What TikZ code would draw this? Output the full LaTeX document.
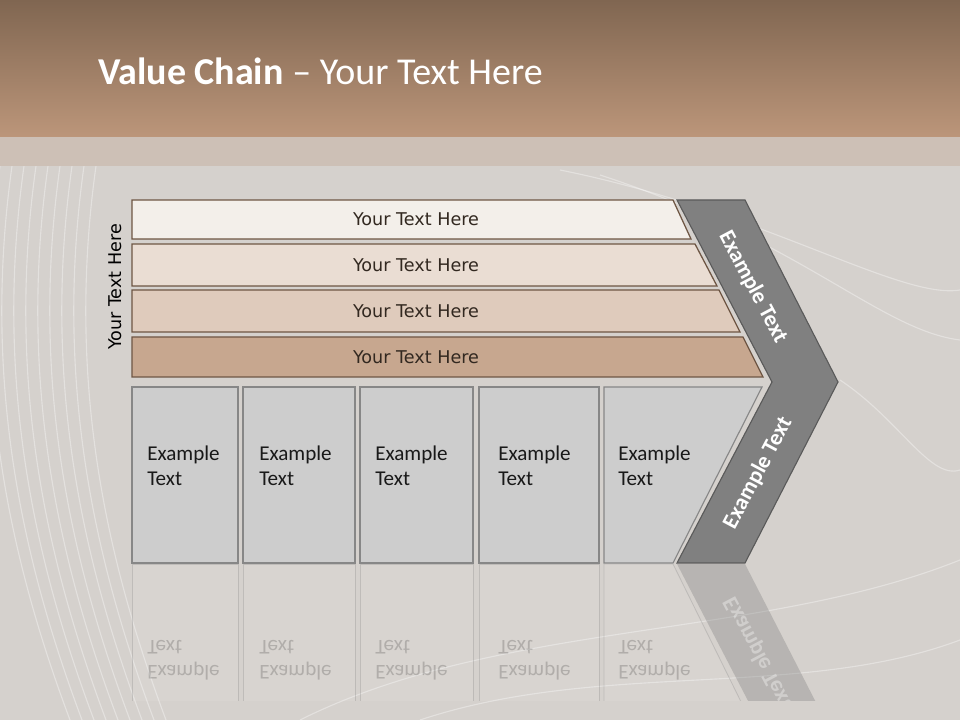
\documentclass[tikz,border=0pt]{standalone}
\usepackage{fontspec}
\setmainfont{Carlito}
\newfontfamily\barfont{DejaVu Sans}
\usepackage{tikz}
\usetikzlibrary{positioning}
\usepackage{xcolor}
\definecolor{HeadTop}{RGB}{128,102,81}
\definecolor{HeadBot}{RGB}{188,150,122}
\definecolor{BandTan}{RGB}{204,190,178}
\definecolor{BackGray}{RGB}{213,209,205}
\definecolor{BarEdge}{RGB}{110,86,68}
\definecolor{BarA}{RGB}{243,239,234}
\definecolor{BarB}{RGB}{234,221,211}
\definecolor{BarC}{RGB}{223,203,188}
\definecolor{BarD}{RGB}{199,167,143}
\definecolor{BoxFill}{RGB}{205,205,205}
\definecolor{BoxEdge}{RGB}{135,135,135}
\definecolor{ChevFill}{RGB}{128,128,128}
\definecolor{ChevEdge}{RGB}{90,90,90}
\definecolor{BarInk}{RGB}{50,40,32}

\tikzset{
  barshape/.style={draw=BarEdge, line width=0.9pt},
  boxshape/.style={draw=BoxEdge, fill=BoxFill, line width=0.8pt},
  bartext/.style={font=\barfont\fontsize{12.5}{14}\selectfont, text=BarInk, inner sep=0pt},
  boxtext/.style={font=\fontsize{15}{18}\selectfont, text=black!90, align=left, anchor=west, inner sep=0pt},
  chevtext/.style={font=\bfseries\fontsize{16}{19}\selectfont, text=white, inner sep=0pt},
  swirl/.style={white, opacity=0.35, line width=0.8pt},
  ghostbox/.style={draw=BoxEdge, draw opacity=0.3, fill=white, fill opacity=0.08, line width=0.6pt},
  ghosttext/.style={boxtext, text=black, opacity=0.18, yscale=-1}
}

\begin{document}
\begin{tikzpicture}[x=0.025cm, y=-0.025cm]
\useasboundingbox (0,0) rectangle (960,720);

% background
\fill[BackGray] (0,0) rectangle (960,720);
\foreach \s in {0,12,24,36,48,60,72,84,96} {
  \draw[swirl] (\s,166) .. controls ({\s-30},380) and ({\s+10},560) .. ({\s+70},720);
}
\draw[swirl] (560,170) .. controls (760,210) and (900,300) .. (960,290);
\draw[swirl] (600,175) .. controls (800,240) and (880,330) .. (960,340);
\draw[swirl] (840,380) .. controls (900,420) and (930,480) .. (960,470);
\draw[swirl] (300,720) .. controls (500,620) and (760,640) .. (960,560);
\draw[swirl] (420,720) .. controls (600,660) and (800,700) .. (960,640);

% header
\shade[top color=HeadTop, bottom color=HeadBot] (0,0) rectangle (960,137);
\fill[BandTan, opacity=0.85] (0,137) rectangle (960,166);
\node[anchor=base west, inner sep=0pt, text=white, font=\fontsize{27}{32}\selectfont]
  (title) at (98,85) {\textbf{Value Chain} -- Your Text Here};

% support bars
\draw[barshape, fill=BarA] (132,200) -- (673,200) -- (691,239) -- (132,239) -- cycle;
\draw[barshape, fill=BarB] (132,244) -- (695,244) -- (717,286) -- (132,286) -- cycle;
\draw[barshape, fill=BarC] (132,290) -- (719,290) -- (740,332) -- (132,332) -- cycle;
\draw[barshape, fill=BarD] (132,337) -- (743,337) -- (763,377) -- (132,377) -- cycle;
\node[bartext] (barA) at (416,219) {Your Text Here};
\node[bartext] (barB) at (416,265) {Your Text Here};
\node[bartext] (barC) at (416,311) {Your Text Here};
\node[bartext] (barD) at (416,357) {Your Text Here};
\node[bartext, text=black, rotate=90] (side) at (115,287) {Your Text Here};

% chevron
\draw[draw=ChevEdge, fill=ChevFill, line width=0.8pt]
  (677,200) -- (745,200) -- (838,382) -- (745,563) -- (677,563) -- (772,382) -- cycle;
\node[chevtext, rotate=-62] (chevup) at (753,287) {Example Text};
\node[chevtext, rotate=62] (chevdown) at (758,473) {Example Text};

% primary boxes
\draw[boxshape] (132,387) rectangle (238,563);
\draw[boxshape] (243,387) rectangle (355,563);
\draw[boxshape] (360,387) rectangle (473,563);
\draw[boxshape] (479,387) rectangle (599,563);
\draw[boxshape] (604,387) -- (762,387) -- (673,563) -- (604,563) -- cycle;
\node[boxtext] (boxA) at (147,466) {Example\\Text};
\node[boxtext] (boxB) at (259,466) {Example\\Text};
\node[boxtext] (boxC) at (375,466) {Example\\Text};
\node[boxtext] (boxD) at (498,466) {Example\\Text};
\node[boxtext] (boxE) at (618,466) {Example\\Text};

% reflection
\begin{scope}
\clip (0,564) rectangle (960,700);
\draw[ghostbox] (132,564) rectangle (238,720);
\draw[ghostbox] (243,564) rectangle (355,720);
\draw[ghostbox] (360,564) rectangle (473,720);
\draw[ghostbox] (479,564) rectangle (599,720);
\draw[ghostbox] (604,564) -- (673,564) -- (750,720) -- (604,720) -- cycle;
\fill[ChevFill, opacity=0.35] (677,564) -- (745,564) -- (825,720) -- (758,720) -- cycle;
\node[ghosttext] (ghostA) at (147,660) {Example\\Text};
\node[ghosttext] (ghostB) at (259,660) {Example\\Text};
\node[ghosttext] (ghostC) at (375,660) {Example\\Text};
\node[ghosttext] (ghostD) at (498,660) {Example\\Text};
\node[ghosttext] (ghostE) at (618,660) {Example\\Text};
\node[chevtext, opacity=0.35, rotate=-62, yscale=-1] (ghostchev) at (758,653) {Example Text};
\end{scope}
\end{tikzpicture}
\end{document}
